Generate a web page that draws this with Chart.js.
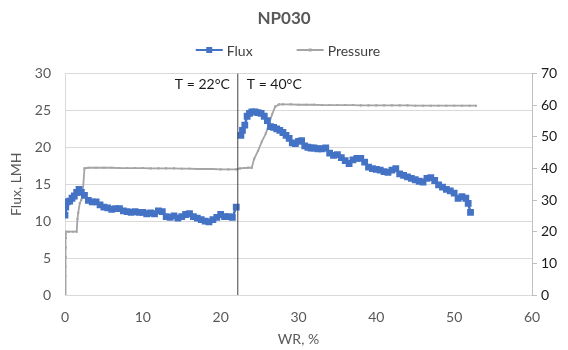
<!DOCTYPE html>
<html>
<head>
<meta charset="utf-8">
<script src="https://cdn.jsdelivr.net/npm/chart.js@4.4.0/dist/chart.umd.min.js"></script>
<style>
  html, body { margin: 0; padding: 0; background: #fff; }
  #wrap { width: 568px; height: 350px; }
</style>
</head>
<body>
<div id="wrap"><canvas id="chart" width="568" height="350"></canvas></div>
<script>
// flux readings, WR % vs LMH (null = break between the two runs)
const fluxWR = [0, 0.1, 0.3, 0.6, 0.9, 1.2, 1.5, 1.8, 2.1, 2.5, 3.0, 3.5, 4.0, 4.5, 5.0, 5.5, 6.0, 6.5, 7.0, 7.5,
  8.0, 8.5, 9.0, 9.5, 10.0, 10.5, 11.0, 11.5, 12.0, 12.5, 13.0, 13.5, 14.0, 14.5, 15.0, 15.5, 16.0, 16.5, 17.0, 17.5,
  18.0, 18.5, 19.0, 19.5, 20.0, 20.5, 21.0, 21.5, 22.0, 22.3,
  22.6, 22.8, 23.1, 23.4, 23.7, 24.0, 24.4, 24.8, 25.2, 25.6, 26.0, 26.4, 26.8, 27.2, 27.6, 28.0, 28.4, 28.8, 29.2, 29.6,
  30.0, 30.4, 30.8, 31.2, 31.6, 32.0, 32.5, 33.0, 33.5, 34.0, 34.5, 35.0, 35.5, 36.0, 36.5, 37.0, 37.5, 38.0, 38.5, 39.0,
  39.5, 40.0, 40.5, 41.0, 41.5, 42.0, 42.5, 43.0, 43.5, 44.0, 44.5, 45.0, 45.5, 46.0, 46.5, 47.0, 47.5, 48.0, 48.5, 49.0,
  49.5, 50.0, 50.5, 51.0, 51.5, 51.8, 52.1];
const fluxLMH = [10.8, 11.9, 12.6, 12.7, 13.1, 13.4, 13.9, 14.3, 13.9, 13.5, 12.8, 12.6, 12.6, 12.2, 11.9, 11.8, 11.6, 11.7, 11.7, 11.4,
  11.3, 11.2, 11.3, 11.2, 11.2, 11.0, 11.1, 11.0, 11.4, 11.3, 10.6, 10.5, 10.7, 10.4, 10.6, 10.9, 11.0, 10.6, 10.4, 10.2,
  10.0, 9.9, 10.2, 10.5, 10.9, 10.6, 10.6, 10.5, 11.9, null,
  21.6, 22.3, 23.0, 24.2, 24.6, 24.8, 24.8, 24.7, 24.6, 24.2, 23.6, 22.8, 22.7, 22.5, 22.3, 22.0, 21.6, 21.2, 20.6, 20.5,
  20.8, 20.9, 20.2, 20.0, 19.9, 19.9, 19.8, 19.8, 19.9, 19.2, 18.9, 19.0, 18.6, 18.2, 17.8, 18.3, 18.5, 18.5, 18.0, 17.3,
  17.1, 17.0, 16.9, 16.7, 16.6, 16.9, 17.1, 16.4, 16.2, 16.0, 15.8, 15.6, 15.4, 15.3, 15.8, 15.9, 15.5, 14.9, 14.6, 14.3,
  14.1, 13.8, 13.1, 13.3, 13.1, 12.4, 11.2];

// pressure readings, WR % vs bar (right axis)
const pressWR = [0, 0.02, 0.04, 0.06, 0.08, 0.1, 0.12, 0.15, 0.5, 1.0, 1.5, 1.6, 1.7, 1.9, 2.1, 2.3, 2.5,
  3, 4, 5, 6, 7, 8, 9, 10, 11, 12, 13, 14, 15, 16, 17, 18, 19, 20, 21, 22, 22.5, 23, 23.5, 24.0,
  24.3, 24.8, 25.3, 25.8, 26.2, 26.6, 27.0, 27.5, 28, 29, 30, 31, 32, 33, 34, 35, 36, 37, 38, 39, 40,
  41, 42, 43, 44, 45, 46, 47, 48, 49, 50, 51, 52, 52.8];
const pressBar = [0, 3, 6, 9, 12, 15, 18, 20, 20, 20, 20, 24, 26, 29, 30, 33, 40,
  40.2, 40.2, 40.2, 40.2, 40.1, 40.1, 40.1, 40.1, 40.0, 40.0, 40.0, 40.0, 39.9, 39.9, 39.8, 39.8, 39.8, 39.7, 39.7, 39.7, 40.0, 40.1, 40.2, 40.2,
  43, 45.5, 48.5, 51, 54, 57, 59.5, 60.2, 60.2, 60.2, 60.1, 60.1, 60.1, 60.0, 60.0, 60.0, 60.0, 60.0, 59.9, 59.9, 59.9,
  59.9, 59.9, 59.9, 59.9, 59.8, 59.8, 59.8, 59.8, 59.8, 59.8, 59.8, 59.8, 59.8];

// temperature change marker
const switchWR = 22.2;
const phaseLabels = ["T = 22°C", "T = 40°C"];

const xTicks = [0, 10, 20, 30, 40, 50, 60];

const FONT = "Lato, 'Open Sans', sans-serif";
const BLUE = "#4472C4";
const GREY = "#A5A5A5";

const toPoints = (xs, ys) => xs.map((x, i) => ({ x: x, y: ys[i] }));

// T labels either side of the switch line
const phasePlugin = {
  id: "phase",
  afterDatasetsDraw(chart) {
    const ctx = chart.ctx;
    const x = chart.scales.x.getPixelForValue(switchWR);
    const y = chart.chartArea.top + 11;
    ctx.save();
    ctx.font = "14px " + FONT;
    ctx.fillStyle = "#1a1a1a";
    ctx.textBaseline = "middle";
    ctx.textAlign = "right";
    ctx.fillText(phaseLabels[0], x - 8, y);
    ctx.textAlign = "left";
    ctx.fillText(phaseLabels[1], x + 9, y);
    ctx.restore();
  }
};

// excel-style legend: line with marker in the middle
const legendPlugin = {
  id: "xlLegend",
  afterDraw(chart) {
    const ctx = chart.ctx;
    const items = chart.data.datasets.filter(d => d.legend);
    const lineW = 27, gap = 4, between = 44;
    ctx.save();
    ctx.font = "14px " + FONT;
    const widths = items.map(d => lineW + gap + ctx.measureText(d.label).width);
    const total = widths.reduce((a, b) => a + b, 0) + between * (items.length - 1);
    let x = chart.width / 2 - total / 2 + 4;
    const y = 50;
    items.forEach((d, i) => {
      ctx.strokeStyle = d.borderColor;
      ctx.lineWidth = 2;
      ctx.beginPath();
      ctx.moveTo(x, y);
      ctx.lineTo(x + lineW, y);
      ctx.stroke();
      const s = d.pointRadius > 2 ? 6 : 3;
      ctx.fillStyle = d.pointBackgroundColor;
      ctx.fillRect(x + lineW / 2 - s / 2, y - s / 2, s, s);
      ctx.fillStyle = "#404040";
      ctx.textBaseline = "middle";
      ctx.textAlign = "left";
      ctx.fillText(d.label, x + lineW + gap, y + 1);
      x += widths[i] + between;
    });
    ctx.restore();
  }
};

new Chart(document.getElementById("chart"), {
  type: "line",
  data: {
    datasets: [
      {
        label: "Flux",
        legend: true,
        data: toPoints(fluxWR, fluxLMH),
        yAxisID: "y",
        borderColor: BLUE,
        backgroundColor: BLUE,
        pointBackgroundColor: BLUE,
        pointBorderColor: BLUE,
        borderWidth: 2.5,
        pointStyle: "rect",
        pointRadius: 4.8,
        pointBorderWidth: 0,
        spanGaps: false,
        tension: 0,
        order: 1
      },
      {
        label: "Pressure",
        legend: true,
        data: toPoints(pressWR, pressBar),
        yAxisID: "y2",
        borderColor: GREY,
        backgroundColor: GREY,
        pointBackgroundColor: GREY,
        pointBorderColor: GREY,
        borderWidth: 1.8,
        pointStyle: "rect",
        pointRadius: 1.5,
        pointBorderWidth: 0,
        tension: 0,
        order: 2
      },
      {
        label: "switch",
        legend: false,
        data: [{ x: switchWR, y: 0 }, { x: switchWR, y: 30 }],
        yAxisID: "y",
        borderColor: "#404040",
        borderWidth: 1,
        pointRadius: 0,
        order: 0
      }
    ]
  },
  options: {
    responsive: false,
    animation: false,
    layout: { padding: 0 },
    plugins: {
      legend: { display: false },
      tooltip: { enabled: false },
      title: {
        display: true,
        text: "NP030",
        color: "#595959",
        font: { family: FONT, size: 17, weight: "bold" },
        padding: { top: 8, bottom: 45 }
      }
    },
    scales: {
      x: {
        type: "linear",
        min: 0,
        max: 60,
        afterBuildTicks: axis => { axis.ticks = xTicks.map(v => ({ value: v })); },
        afterFit: axis => { axis.height = 55; },
        grid: { display: false, drawTicks: false },
        border: { display: true, color: "#d9d9d9", width: 1 },
        ticks: { color: "#595959", font: { family: FONT, size: 14 }, padding: 14 },
        title: { display: true, text: "WR, %", color: "#595959", font: { family: FONT, size: 14 }, padding: { top: 0, bottom: 2 } }
      },
      y: {
        position: "left",
        min: 0,
        max: 30,
        ticks: { stepSize: 5, color: "#595959", font: { family: FONT, size: 14 }, padding: 14 },
        afterFit: axis => { axis.width = 65; },
        grid: { color: "#d9d9d9", drawTicks: false },
        border: { display: true, color: "#d9d9d9" },
        title: { display: true, text: "Flux, LMH", color: "#595959", font: { family: FONT, size: 14 }, padding: { top: 8, bottom: 0 } }
      },
      y2: {
        position: "right",
        min: 0,
        max: 70,
        ticks: { stepSize: 10, color: "#1a1a1a", font: { family: FONT, size: 14 }, padding: 4 },
        afterFit: axis => { axis.width = 36; },
        grid: { drawOnChartArea: false, color: "#bfbfbf", tickLength: 5 },
        border: { display: true, color: "#bfbfbf" }
      }
    }
  },
  plugins: [phasePlugin, legendPlugin]
});
</script>
</body>
</html>
